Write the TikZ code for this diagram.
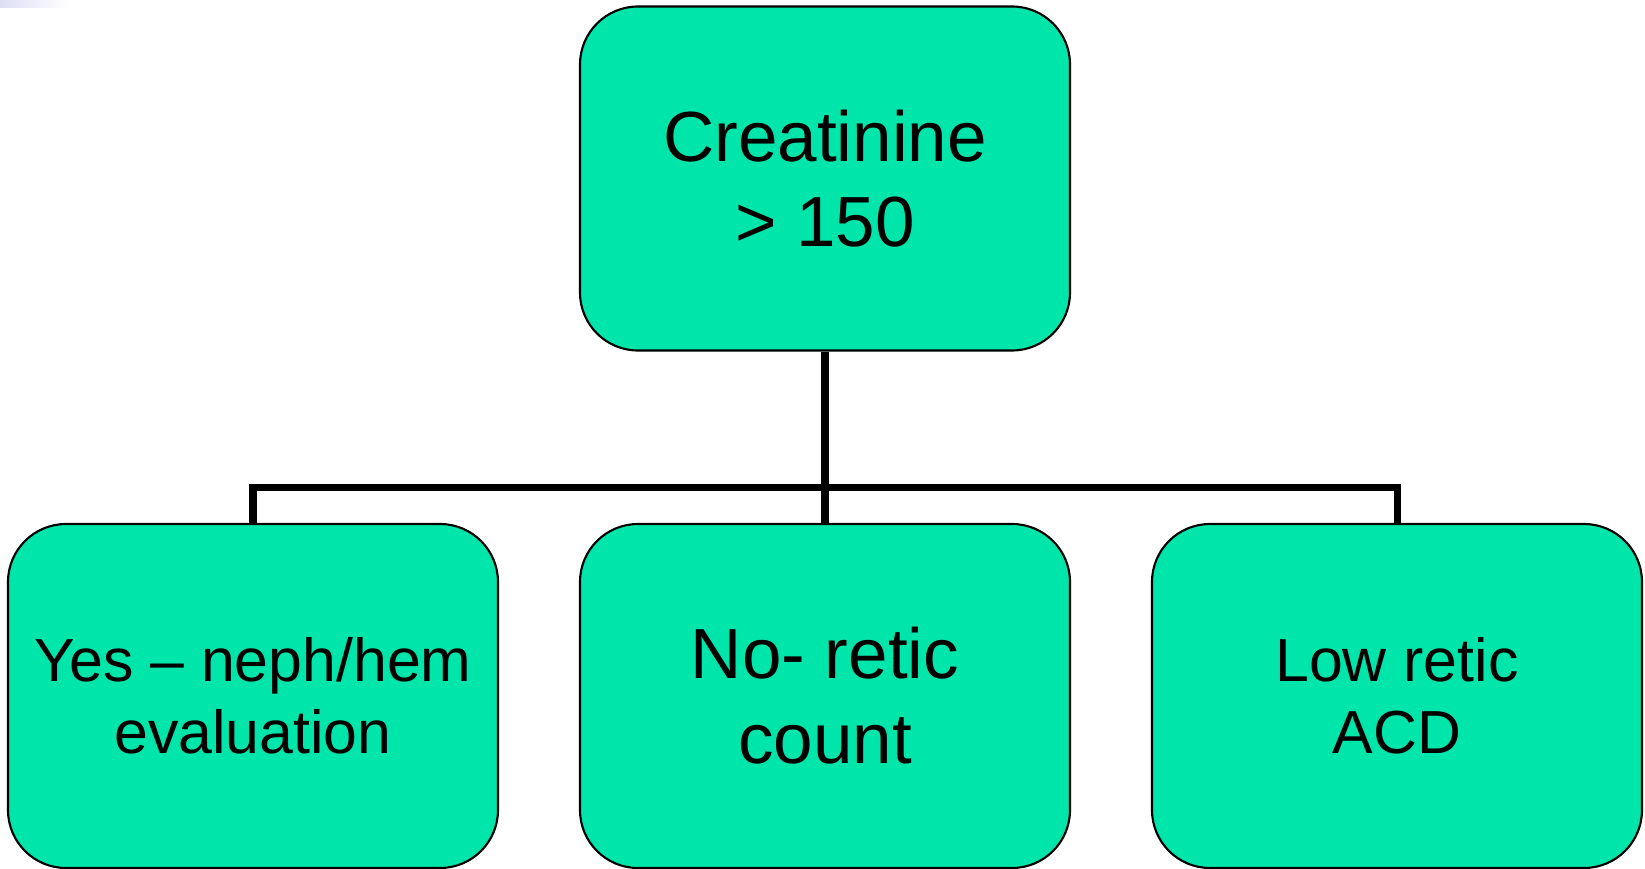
\documentclass[tikz,border=0pt]{standalone}
\usepackage{fontspec}
\setmainfont{Liberation Sans}
\definecolor{mint}{RGB}{0,229,170}
\definecolor{lilac}{RGB}{222,222,245}

\begin{document}
\begin{tikzpicture}[
    box/.style={draw, line width=0.6pt, fill=mint, rounded corners=0.58cm,
        minimum width=4.9cm, minimum height=3.44cm, inner sep=0pt, align=center},
    big/.style={font=\fontsize{20.2}{24.2}\selectfont},
    small/.style={font=\fontsize{17.3}{20.6}\selectfont},
    link/.style={line width=2pt}
]
    \useasboundingbox (0,0) rectangle (16.45,-8.69);
    % rest of the slide background
    \shade[left color=lilac, right color=white] (0,0) rectangle (0.7,-0.08);

    \node[box, big](crea)                       at (8.25,-1.785) {Creatinine\\> 150};
    \node[box, small](yes)                      at (2.53,-6.96)  {Yes – neph/hem\\evaluation};
    \node[box, big](no)                         at (8.25,-6.96)  {No- retic\\count};
    \node[box, small](low)                      at (13.97,-6.96) {Low retic\\ACD};

    % stem and bar
    \draw[link] (crea.south) -- (no.north);
    \draw[link] (yes.north) -- ++(0,0.35) -| (low.north);
\end{tikzpicture}
\end{document}
